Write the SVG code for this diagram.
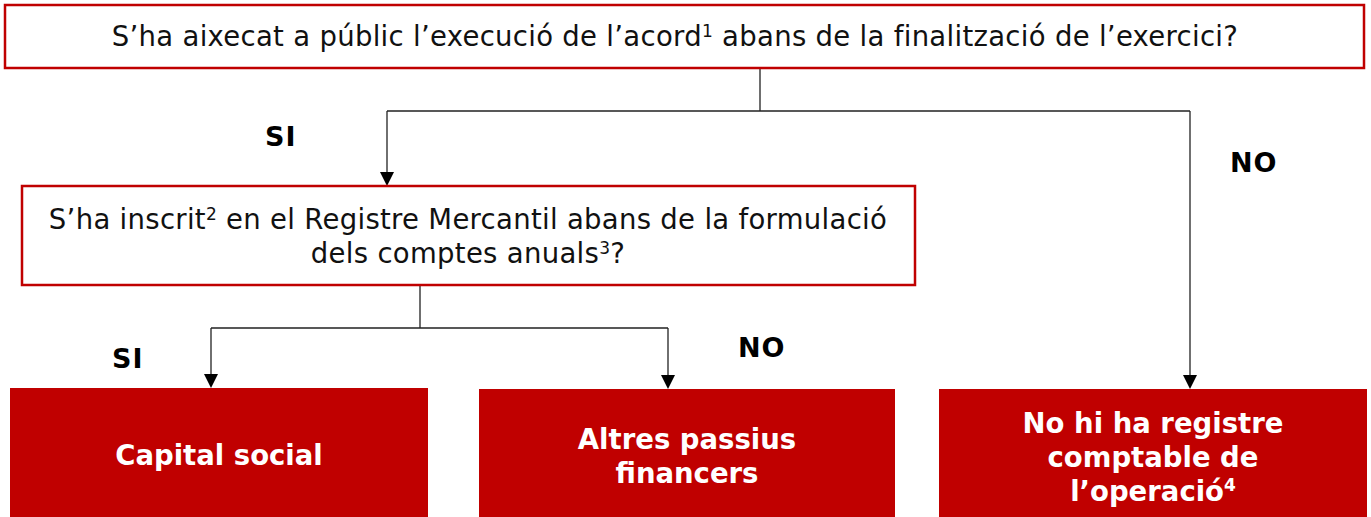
<svg xmlns="http://www.w3.org/2000/svg" width="1371" height="517" viewBox="0 0 1371 517">
<style>
.q{fill:#fff;stroke:#c00000;stroke-width:2.5}
.r{fill:#c00000}
.t{font-family:"DejaVu Sans",Verdana,sans-serif;font-size:27.5px;letter-spacing:0.3px;fill:#111;text-anchor:middle}
.w{font-family:"DejaVu Sans",Verdana,sans-serif;font-size:27.5px;font-weight:bold;fill:#fff;text-anchor:middle}
.l{font-family:"DejaVu Sans",Verdana,sans-serif;font-size:27px;font-weight:bold;fill:#000;letter-spacing:1px}
.c{fill:none;stroke:#222;stroke-width:1.3}
.sup{font-size:17px}
</style>
<g id="connectors">
<path class="c" d="M760,68 V111 M387,111 H1190"/>
<path class="c" d="M387,111 V172"/><path d="M380,172 L394,172 L387,186 Z"/>
<path class="c" d="M1190,111 V375"/><path d="M1183,375 L1197,375 L1190,389 Z"/>
<path class="c" d="M420,285 V328 M211,328 H668"/>
<path class="c" d="M211,328 V374"/><path d="M204,374 L218,374 L211,388 Z"/>
<path class="c" d="M668,328 V375"/><path d="M661,375 L675,375 L668,389 Z"/>
</g>
<g id="labels">
<text class="l" x="265" y="146">SI</text>
<text class="l" x="1230" y="172">NO</text>
<text class="l" x="112" y="368">SI</text>
<text class="l" x="738" y="357">NO</text>
</g>
<g id="q1">
<rect class="q" x="5" y="5" width="1359" height="63"/>
<text class="t" x="675" y="46">S’ha aixecat a públic l’execució de l’acord<tspan class="sup" dy="-9">1</tspan><tspan dy="9"> abans de la finalització de l’exercici?</tspan></text>
</g>
<g id="q2">
<rect class="q" x="22" y="186" width="893" height="99"/>
<text class="t" x="468" y="229">S’ha inscrit<tspan class="sup" dy="-9">2</tspan><tspan dy="9"> en el Registre Mercantil abans de la formulació</tspan></text>
<text class="t" x="468" y="263">dels comptes anuals<tspan class="sup" dy="-9">3</tspan><tspan dy="9">?</tspan></text>
</g>
<g id="capital">
<rect class="r" x="10" y="388" width="418" height="135"/>
<text class="w" x="219" y="465">Capital social</text>
</g>
<g id="altres">
<rect class="r" x="479" y="389" width="416" height="135"/>
<text class="w" x="687" y="449">Altres passius</text>
<text class="w" x="687" y="483">financers</text>
</g>
<g id="noregistre">
<rect class="r" x="939" y="389" width="428" height="135"/>
<text class="w" x="1153" y="433">No hi ha registre</text>
<text class="w" x="1153" y="467">comptable de</text>
<text class="w" x="1153" y="501">l’operació<tspan class="sup" dy="-10">4</tspan></text>
</g>
</svg>
